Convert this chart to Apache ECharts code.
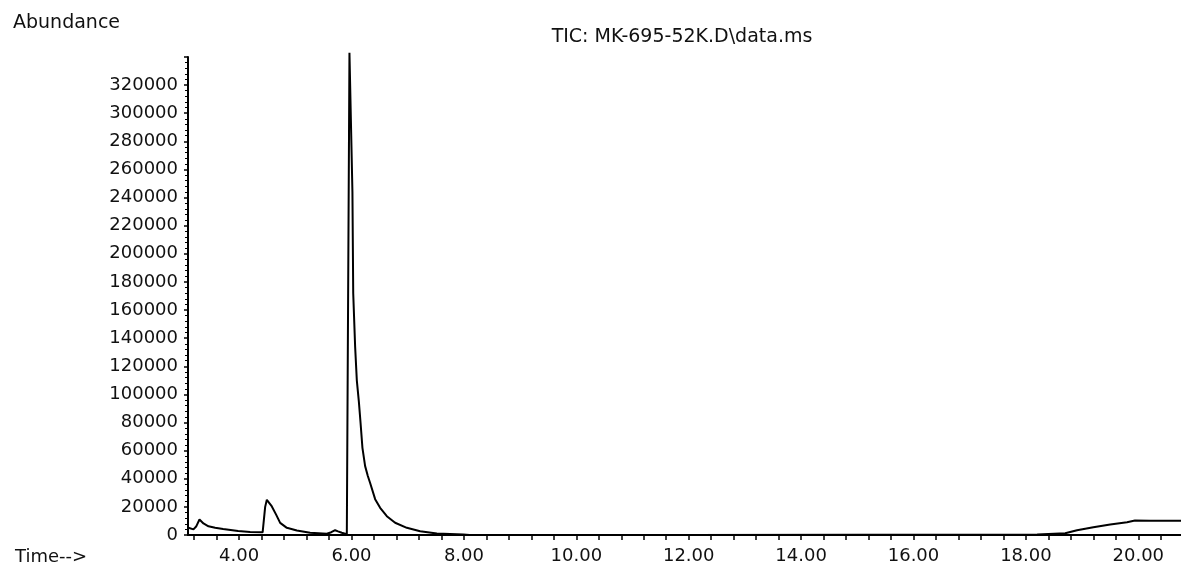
<!DOCTYPE html>
<html><head><meta charset="utf-8">
<script src="https://cdn.jsdelivr.net/npm/echarts@6/dist/echarts.min.js"></script>
<style>html,body{margin:0;padding:0;background:#fff}#c{width:1181px;height:567px}</style>
</head><body><div id="c"></div>
<script>
const chartTitle = 'TIC: MK-695-52K.D\\data.ms';
const yName = 'Abundance';
const xName = 'Time-->';
const times = [3.098, 3.187, 3.235, 3.294, 3.365, 3.454, 3.573, 3.715, 3.982, 4.196, 4.418, 4.44, 4.463, 4.493, 4.582, 4.658, 4.73, 4.849, 5.027, 5.263, 5.56, 5.64, 5.708, 5.76, 5.827, 5.916, 5.947, 5.963, 6.016, 6.03, 6.064, 6.094, 6.13, 6.16, 6.194, 6.242, 6.29, 6.331, 6.42, 6.509, 6.628, 6.776, 6.984, 7.221, 7.518, 7.99, 8.1, 12.0, 18.2, 18.7, 18.91, 19.2, 19.5, 19.8, 19.94, 20.21, 20.76];
const abundance = [5100, 4000, 6000, 11000, 8200, 6200, 5200, 4300, 2800, 2200, 1900, 2000, 20000, 25000, 20300, 14500, 8600, 5100, 3200, 1600, 900, 2000, 3400, 2600, 1600, 500, 500, 343000, 244000, 172000, 134000, 110000, 95000, 80000, 62000, 49000, 42000, 37000, 25500, 19300, 13400, 8700, 5100, 2700, 1100, 400, 0, 0, 300, 1200, 3400, 5500, 7500, 9100, 10300, 10100, 10100];
const xLabelValues = [4, 6, 8, 10, 12, 14, 16, 18, 20];
const xTickValues = [3.2,3.6,4.0,4.4,4.8,5.2,5.6,6.0,6.4,6.8,7.2,7.6,8.0,8.4,8.8,9.2,9.6,10.0,10.4,10.8,11.2,11.6,12.0,12.4,12.8,13.2,13.6,14.0,14.4,14.8,15.2,15.6,16.0,16.4,16.8,17.2,17.6,18.0,18.4,18.8,19.2,19.6,20.0,20.4];
const yMax = 340000, yInterval = 20000, yLastLabel = 320000;

const font = 'DejaVu Sans';
const chart = echarts.init(document.getElementById('c'), null, {renderer: 'canvas'});
chart.setOption({
  animation: false,
  backgroundColor: '#fff',
  title: [
    {text: yName, left: 13, top: 14, padding: 0, textStyle: {fontFamily: font, fontSize: 19, fontWeight: 'normal', color: '#111'}},
    {text: chartTitle, left: 682, top: 28, padding: 0, textAlign: 'center', textStyle: {fontFamily: font, fontSize: 19, fontWeight: 'normal', color: '#111'}},
    {text: xName, left: 15, top: 548, padding: 0, textStyle: {fontFamily: font, fontSize: 18, fontWeight: 'normal', color: '#111'}}
  ],
  grid: {left: 188, right: 0, top: 57, bottom: 32, containLabel: false},
  xAxis: {
    type: 'value', min: 3.09, max: 20.76,
    axisLine: {show: true, onZero: false, lineStyle: {color: '#000', width: 2}},
    axisTick: {show: true, customValues: xTickValues, length: 5, lineStyle: {color: '#000', width: 1.5}},
    axisLabel: {customValues: xLabelValues, formatter: v => v.toFixed(2), margin: 12, fontFamily: font, fontSize: 18, color: '#111'},
    splitLine: {show: false}
  },
  yAxis: {
    type: 'value', min: 0, max: yMax, interval: yInterval,
    axisLine: {show: true, lineStyle: {color: '#000', width: 2}},
    axisTick: {show: true, length: 4, lineStyle: {color: '#000', width: 1.5}},
    minorTick: {show: true, splitNumber: 5, length: 3, lineStyle: {color: '#000', width: 1}},
    axisLabel: {formatter: v => (v > yLastLabel ? '' : String(v)), margin: 10, fontFamily: font, fontSize: 18, color: '#111'},
    splitLine: {show: false}
  },
  series: [{
    type: 'line', showSymbol: false, clip: false,
    lineStyle: {color: '#000', width: 2},
    data: times.map((t, i) => [t, abundance[i]])
  }]
});
</script>
</body></html>
